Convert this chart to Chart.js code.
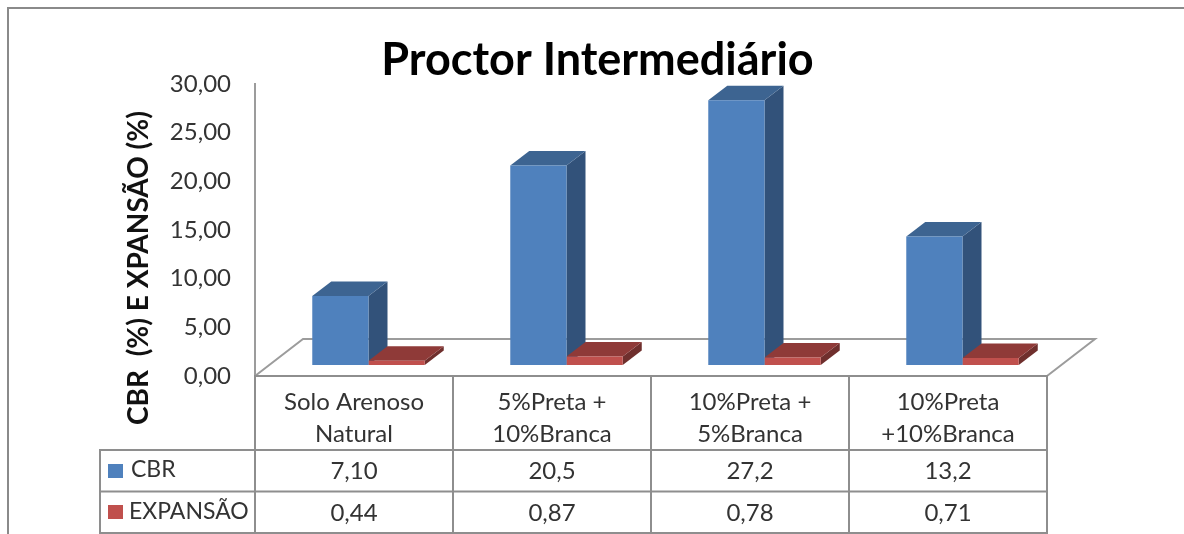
<!DOCTYPE html>
<html lang="pt">
<head>
<meta charset="utf-8">
<title>Proctor Intermediário</title>
<script src="https://cdn.jsdelivr.net/npm/chart.js@4"></script>
<style>
  html, body { margin: 0; padding: 0; background: #fff; }
  #wrap { position: relative; width: 1184px; height: 534px; }
</style>
</head>
<body>
<div id="wrap"><canvas id="chart" width="1184" height="534"></canvas></div>
<script>
// Chart content
const chartTitle = 'Proctor Intermediário';
const yAxisTitle = 'CBR  (%) E XPANSÃO (%)';
const categories = [['Solo Arenoso', 'Natural'], ['5%Preta +', '10%Branca'], ['10%Preta +', '5%Branca'], ['10%Preta', '+10%Branca']];
const yTickLabels = ['0,00', '5,00', '10,00', '15,00', '20,00', '25,00', '30,00'];
const seriesNames = ['CBR', 'EXPANSÃO'];
const cbrValues = [7.10, 20.5, 27.2, 13.2];
const expansaoValues = [0.44, 0.87, 0.78, 0.71];
const cbrCells = ['7,10', '20,5', '27,2', '13,2'];
const expansaoCells = ['0,44', '0,87', '0,78', '0,71'];

// Palette for the three visible faces of each column
const blueFaces = { front: '#4f81bd', top: '#3d6491', side: '#32527a' };
const redFaces = { front: '#c0504d', top: '#8f3a38', side: '#6f2f2d' };
const lineColor = '#8e8e8e';
const textColor = '#333333';
const fontFamily = 'Lato, "Open Sans", sans-serif';

// Oblique projection of the box drawing
const depth = { x: 19, y: 14.5 };
const plotShift = { x: 14.5, y: -11 };
const floorBack = { y: 339, inset: 48 };

function polygon(ctx, points, fill) {
  ctx.beginPath();
  points.forEach((p, i) => (i ? ctx.lineTo(p[0], p[1]) : ctx.moveTo(p[0], p[1])));
  ctx.closePath();
  ctx.fillStyle = fill;
  ctx.fill();
}

function segment(ctx, x1, y1, x2, y2, width, color) {
  ctx.beginPath();
  ctx.moveTo(x1, y1);
  ctx.lineTo(x2, y2);
  ctx.lineWidth = width;
  ctx.strokeStyle = color || lineColor;
  ctx.stroke();
}

// Keeps the heading centred over the whole drawing rather than the padded box
const titlePlacement = {
  id: 'titlePlacement',
  afterLayout(chart) {
    chart.titleBlock.left = 11;
    chart.titleBlock.right = 1184;
  }
};

// Floor and the receding faces of the columns, followed by the shift for the front faces
const boxFaces = {
  id: 'boxFaces',
  beforeDatasetsDraw(chart) {
    const { ctx, chartArea: a } = chart;
    ctx.save();
    ctx.lineJoin = 'miter';
    ctx.beginPath();
    ctx.moveTo(a.left, a.bottom);
    ctx.lineTo(a.left + floorBack.inset, floorBack.y);
    ctx.lineTo(a.right + floorBack.inset, floorBack.y);
    ctx.lineTo(a.right, a.bottom);
    ctx.lineWidth = 2;
    ctx.strokeStyle = '#9c9c9c';
    ctx.stroke();

    [blueFaces, redFaces].forEach((faces, i) => {
      chart.getDatasetMeta(i).data.forEach((bar) => {
        const left = bar.x - bar.width / 2 + plotShift.x;
        const right = bar.x + bar.width / 2 + plotShift.x;
        const top = bar.y + plotShift.y;
        const base = bar.base + plotShift.y;
        polygon(ctx, [[right, top], [right + depth.x, top - depth.y], [right + depth.x, base - depth.y], [right, base]], faces.side);
        polygon(ctx, [[left, top], [left + depth.x, top - depth.y], [right + depth.x, top - depth.y], [right, top]], faces.top);
      });
    });
    ctx.restore();

    ctx.save();
    ctx.translate(plotShift.x, plotShift.y);
  },
  afterDatasetsDraw(chart) {
    chart.ctx.restore();
  }
};

// Outer frame, rotated axis caption and the data table under the plot
const tableAndFrame = {
  id: 'tableAndFrame',
  afterDraw(chart) {
    const { ctx, chartArea: a } = chart;
    const rows = [450, 491.5, 533];
    const band = (a.right - a.left) / categories.length;
    const tableLeft = 100;

    ctx.save();
    segment(ctx, 8, 534, 8, 8, 2, '#8a8a8a');
    segment(ctx, 7, 8, 1184, 8, 2, '#8a8a8a');

    segment(ctx, a.left - 1, a.bottom, a.right + 1, a.bottom, 2);
    for (let i = 0; i <= categories.length; i++) {
      const x = a.left + band * i;
      segment(ctx, x, a.bottom, x, rows[2] + 1, 2);
    }
    segment(ctx, tableLeft, rows[0], tableLeft, rows[2] + 1, 2);
    rows.forEach((y) => segment(ctx, tableLeft - 1, y, a.right + 1, y, 2));

    ctx.font = '24px ' + fontFamily;
    ctx.fillStyle = textColor;
    ctx.textBaseline = 'middle';
    ctx.textAlign = 'center';
    [cbrCells, expansaoCells].forEach((cells, r) => {
      const y = (rows[r] + rows[r + 1]) / 2 + 1;
      cells.forEach((text, i) => ctx.fillText(text, a.left + band * (i + 0.5), y));
    });

    ctx.font = '23px ' + fontFamily;
    ctx.textAlign = 'left';
    ctx.fillText(seriesNames[0], 131, 470);
    ctx.fillText(seriesNames[1], 129, 512);
    ctx.fillStyle = blueFaces.front;
    ctx.fillRect(108, 464, 15, 14);
    ctx.fillStyle = redFaces.front;
    ctx.fillRect(108, 505, 15, 14);

    ctx.translate(139, 268);
    ctx.rotate(-Math.PI / 2);
    ctx.textAlign = 'center';
    ctx.font = 'bold 28px ' + fontFamily;
    ctx.fillStyle = '#111111';
    ctx.fillText(yAxisTitle, 0, 0);
    ctx.restore();
  }
};

new Chart(document.getElementById('chart'), {
  type: 'bar',
  data: {
    labels: categories,
    datasets: [
      { label: seriesNames[0], data: cbrValues, backgroundColor: blueFaces.front, clip: false },
      { label: seriesNames[1], data: expansaoValues, backgroundColor: redFaces.front, clip: false }
    ]
  },
  options: {
    responsive: false,
    animation: false,
    events: [],
    layout: { padding: { left: 0, right: 137, top: 0, bottom: 0 } },
    datasets: { bar: { categoryPercentage: 0.568, barPercentage: 1 } },
    scales: {
      x: {
        grid: { display: false },
        border: { display: false },
        ticks: {
          padding: 3,
          maxRotation: 0,
          autoSkip: false,
          color: textColor,
          font: { family: fontFamily, size: 24, lineHeight: 1.3 }
        },
        afterFit(scale) { scale.height = 158; }
      },
      y: {
        min: 0,
        max: 30,
        grid: { display: false, drawTicks: false },
        border: { display: true, color: '#9c9c9c', width: 2 },
        ticks: {
          stepSize: 5,
          padding: 24,
          color: textColor,
          font: { family: fontFamily, size: 24 },
          callback: (value) => yTickLabels[value / 5]
        },
        afterFit(scale) { scale.width = 255; }
      }
    },
    plugins: {
      legend: { display: false },
      tooltip: { enabled: false },
      title: {
        display: true,
        text: chartTitle,
        color: '#000000',
        font: { family: fontFamily, size: 45, weight: 'bold', lineHeight: 1.067 },
        padding: { top: 36, bottom: 0 }
      }
    }
  },
  plugins: [titlePlacement, boxFaces, tableAndFrame]
});
</script>
</body>
</html>
